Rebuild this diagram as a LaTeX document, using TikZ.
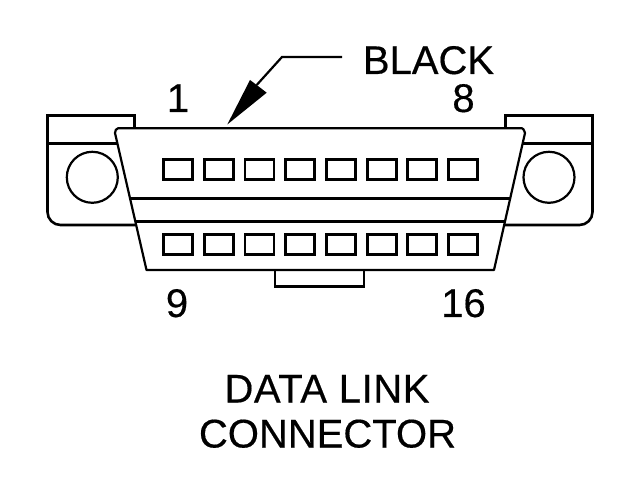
\documentclass[tikz,border=0pt]{standalone}
\usepackage{fontspec}
\setmainfont{Liberation Sans}
\newfontfamily\lblfont[FakeBold=0.4]{Liberation Sans}
\tikzset{
  px/.style={x=1pt,y=-1pt},
  outline/.style={draw=black,line width=2.6pt,line join=miter},
  thin outline/.style={draw=black,line width=2.2pt,line join=round},
  pin/.style={draw=black,line width=2.8pt,fill=white,minimum width=29pt,minimum height=20pt,inner sep=0pt,outer sep=0pt},
  label/.style={inner sep=0pt,outer sep=0pt,anchor=base,font=\lblfont\fontsize{40pt}{42pt}\selectfont,text=black},
}
\begin{document}
\begin{tikzpicture}[px]
\useasboundingbox[fill=white] (0,0) rectangle (640,494);
% side flanges
\draw[outline] (134.5,128) -- (134.5,115.5) -- (47.5,115.5) -- (47.5,212) arc[start angle=180,end angle=90,radius=13pt,y radius=-13pt] -- (136,225);
\draw[outline] (47.5,143.5) -- (118,143.5);
\draw[outline] (505.5,128) -- (505.5,115.5) -- (592.5,115.5) -- (592.5,212) arc[start angle=0,end angle=90,radius=13pt,y radius=-13pt] -- (505,225);
\draw[outline] (592.5,143.5) -- (522,143.5);
\node[circle,draw=black,line width=2.2pt,minimum size=51pt,inner sep=0pt] (holeL) at (92.3,177.3) {};
\node[circle,draw=black,line width=2.2pt,minimum size=51pt,inner sep=0pt] (holeR) at (549,177.3) {};
% body
\draw[thin outline,fill=white] (118,128.3) -- (522,128.3) to[out=0,in=-80] (525,133) -- (494,270) -- (146.5,270) -- (115,133) to[out=80,in=180] (118,128.3) -- cycle;
\draw[outline] (131,198.3) -- (510,198.3);
\draw[outline] (136,221.7) -- (505,221.7);
% bottom key
\draw[outline] (275,270) -- (275,286.5) -- (364,286.5) -- (364,270);
% pins
\foreach \i in {0,...,7}{
  \node[pin] (top\i) at (178+40.72*\i,169.5) {};
  \node[pin] (bot\i) at (178+40.72*\i,244.5) {};
}
% leader
\coordinate (leadEnd) at (342,57);
\coordinate (leadKnee) at (282,57);
\coordinate (leadNotch) at (256.7,85);
\coordinate (tip) at (227.3,124.5);
\draw[line width=2.2pt] (leadEnd) -- (leadKnee) -- (leadNotch);
\fill[black] (tip) -- (250,80) -- (leadNotch) -- (266.7,92.7) -- cycle;
% labels
\node[label] (black) at (428.5,74) {BLACK};
\node[label] (one) at (178,112) {1};
\node[label] (eight) at (463.5,112) {8};
\node[label] (nine) at (177,317) {9};
\node[label] (sixteen) at (463.5,317) {16};
\node[label] (data) at (327,402.5) {\addfontfeatures{LetterSpace=1.5}DATA LINK};
\node[label] (conn) at (327.5,447.5) {CONNECTOR};
\end{tikzpicture}
\end{document}
